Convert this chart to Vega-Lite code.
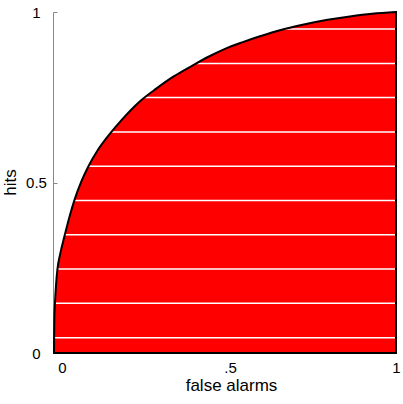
{
  "$schema": "https://vega.github.io/schema/vega-lite/v6.json",
  "width": 342,
  "height": 341,
  "autosize": "none",
  "padding": {"left": 54, "top": 12, "right": 7, "bottom": 51},
  "config": {"view": {"stroke": null}, "font": "Liberation Sans"},
  "datasets": {
    "roc": [
      {"fa": 0, "hits": 0},
      {"fa": 0.0005, "hits": 0.06},
      {"fa": 0.001, "hits": 0.10},
      {"fa": 0.003, "hits": 0.15},
      {"fa": 0.006, "hits": 0.20},
      {"fa": 0.010, "hits": 0.245},
      {"fa": 0.018, "hits": 0.290},
      {"fa": 0.030, "hits": 0.340},
      {"fa": 0.045, "hits": 0.398},
      {"fa": 0.060, "hits": 0.449},
      {"fa": 0.080, "hits": 0.503},
      {"fa": 0.100, "hits": 0.546},
      {"fa": 0.130, "hits": 0.598},
      {"fa": 0.165, "hits": 0.645},
      {"fa": 0.200, "hits": 0.686},
      {"fa": 0.250, "hits": 0.737},
      {"fa": 0.300, "hits": 0.776},
      {"fa": 0.350, "hits": 0.811},
      {"fa": 0.400, "hits": 0.840},
      {"fa": 0.450, "hits": 0.868},
      {"fa": 0.500, "hits": 0.892},
      {"fa": 0.550, "hits": 0.911},
      {"fa": 0.600, "hits": 0.928},
      {"fa": 0.666, "hits": 0.948},
      {"fa": 0.720, "hits": 0.961},
      {"fa": 0.800, "hits": 0.977},
      {"fa": 0.865, "hits": 0.987},
      {"fa": 0.930, "hits": 0.995},
      {"fa": 1, "hits": 1}
    ],
    "lines": [
      {"hits": 0.045, "fa": 0.0004},
      {"hits": 0.146, "fa": 0.0028},
      {"hits": 0.246, "fa": 0.010},
      {"hits": 0.347, "fa": 0.032},
      {"hits": 0.447, "fa": 0.058},
      {"hits": 0.548, "fa": 0.101},
      {"hits": 0.648, "fa": 0.168},
      {"hits": 0.749, "fa": 0.262},
      {"hits": 0.849, "fa": 0.416},
      {"hits": 0.950, "fa": 0.668}
    ]
  },
  "layer": [
    {
      "data": {"name": "roc"},
      "mark": {"type": "area", "color": "#ff0000", "interpolate": "monotone"},
      "encoding": {
        "x": {
          "field": "fa", "type": "quantitative",
          "scale": {"domain": [0, 1], "nice": false},
          "axis": {
            "values": [0, 0.5, 1],
            "format": "~g",
            "title": "false alarms",
            "domain": false, "ticks": false, "grid": false,
            "labelFontSize": 15, "labelPadding": 7, "labelColor": "black",
            "labelFlush": false,
            "labelExpr": "datum.value == 0.5 ? '.5' : datum.label",
            "labelOffset": {"condition": [{"test": "datum.value == 0", "value": 8}, {"test": "datum.value == 0.5", "value": 5}], "value": 0},
            "titleFontSize": 17, "titleFontWeight": "normal", "titleColor": "black",
            "titleX": 177, "titleY": 37, "titleBaseline": "alphabetic"
          }
        },
        "y": {
          "field": "hits", "type": "quantitative",
          "scale": {"domain": [0, 1], "nice": false},
          "axis": {
            "values": [0, 0.5, 1],
            "format": "~g",
            "title": "hits",
            "grid": false, "offset": 1,
            "domainColor": "#888", "tickColor": "#888", "tickSize": -4,
            "labelFontSize": 15, "labelColor": "black", "labelFlush": false,
            "labelAlign": "center", "labelBaseline": "middle", "labelPadding": 21,
            "titleFontSize": 17, "titleFontWeight": "normal", "titleColor": "black",
            "titleX": -43, "titleY": 170, "titleBaseline": "middle", "titleAngle": -90
          }
        }
      }
    },
    {
      "data": {"name": "lines"},
      "mark": {"type": "rule", "color": "white", "strokeWidth": 1.5},
      "encoding": {
        "x": {"field": "fa", "type": "quantitative"},
        "x2": {"datum": 1},
        "y": {"field": "hits", "type": "quantitative"}
      }
    },
    {
      "data": {"name": "roc"},
      "mark": {"type": "area", "fillOpacity": 0, "fill": "white", "stroke": "black", "strokeWidth": 2, "interpolate": "monotone"},
      "encoding": {
        "x": {"field": "fa", "type": "quantitative"},
        "y": {"field": "hits", "type": "quantitative"}
      }
    }
  ]
}
